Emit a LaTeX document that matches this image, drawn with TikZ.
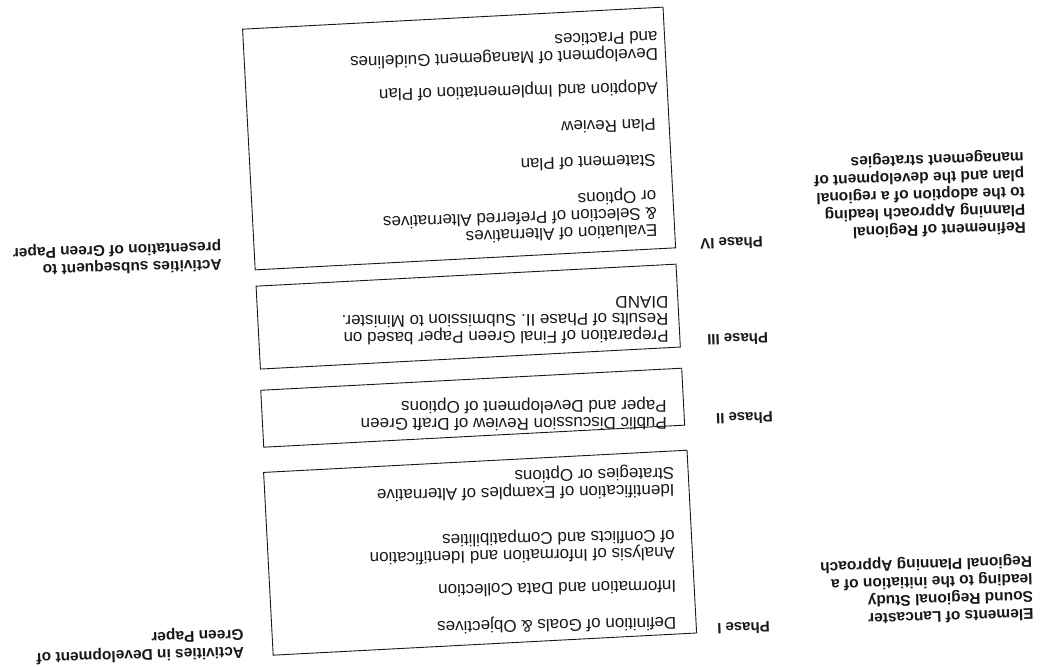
\documentclass[tikz,border=0pt]{standalone}
\usepackage{fontspec}
\setmainfont{Liberation Sans}
\begin{document}
\begin{tikzpicture}[x=1pt,y=-1pt,
  box/.style={draw=black!90, line width=0.9pt, rectangle, rotate=183, inner sep=0pt},
  txt/.style={anchor=west, align=left, inner sep=0pt, text=black!90, font=\fontsize{17}{17}\selectfont},
  phase/.style={rotate=182, anchor=west, inner sep=0pt, text=black!90, font=\bfseries\fontsize{15}{17}\selectfont},
  side/.style={rotate=181.7, anchor=west, align=left, inner sep=0pt, text=black!90, font=\bfseries\fontsize{15.5}{17.5}\selectfont}]
\useasboundingbox (0,0) rectangle (1045,667);

% boxes
\node[box, minimum width=421pt, minimum height=241pt] (b4) at (459.1,138.5) {};
\node[box, minimum width=420.5pt, minimum height=83pt] (b3) at (468.2,316.6) {};
\node[box, minimum width=421.5pt, minimum height=57pt] (b2) at (472.7,407.7) {};
\node[box, minimum width=424pt, minimum height=183pt] (b1) at (480.1,552.7) {};

% Phase IV text
\node[txt, rotate=181.6] (t4a) at (658,46) {Development of Management Guidelines\\and Practices};
\node[txt, rotate=181.4] (t4b) at (658,87) {Adoption and Implementation of Plan};
\node[txt, rotate=181.6] (t4c) at (656,125) {Plan Review};
\node[txt, rotate=181.6] (t4d) at (656,161) {Statement of Plan};
\node[txt, rotate=182] (t4e) at (657,212) {Evaluation of Alternatives\\\& Selection of Preferred Alternatives\\or Options};

% Phase III text
\node[txt, rotate=180.4] (t3) at (668.7,319.5) {Preparation of Final Green Paper based on\\Results of Phase II. Submission to Minister.\\DIAND};

% Phase II text
\node[txt, rotate=180.3] (t2) at (667,413.3) {Public Discussion Review of Draft Green\\Paper and Development of Options};

% Phase I text
\node[txt, rotate=181] (t1a) at (676.5,622) {Definition of Goals \& Objectives};
\node[txt, rotate=181] (t1b) at (676.5,586.8) {Information and Data Collection};
\node[txt, rotate=181] (t1c) at (675,543.5) {Analysis of Information and Identification\\of Conflicts and Compatibilities};
\node[txt, rotate=181] (t1d) at (674.6,480.7) {Identification of Examples of Alternative\\Strategies or Options};

% phase labels
\node[phase] (p4) at (763,242) {Phase IV};
\node[phase] (p3) at (768.3,338) {Phase III};
\node[phase] (p2) at (773,417) {Phase II};
\node[phase] (p1) at (770,627) {Phase I};

% side labels
\node[side] (r1) at (1025,191.3) {Refinement of Regional\\Planning Approach leading\\to the adoption of a regional\\plan and the development of\\management strategies};
\node[side] (r2) at (1033,586.7) {Elements of Lancaster\\Sound Regional Study\\leading to the initiation of a\\Regional Planning Approach};
\node[side] (l1) at (221.7,255) {Activities subsequent to\\presentation of Green Paper};
\node[side] (l2) at (244,642.5) {Activities in Development of\\Green Paper};
\end{tikzpicture}
\end{document}
